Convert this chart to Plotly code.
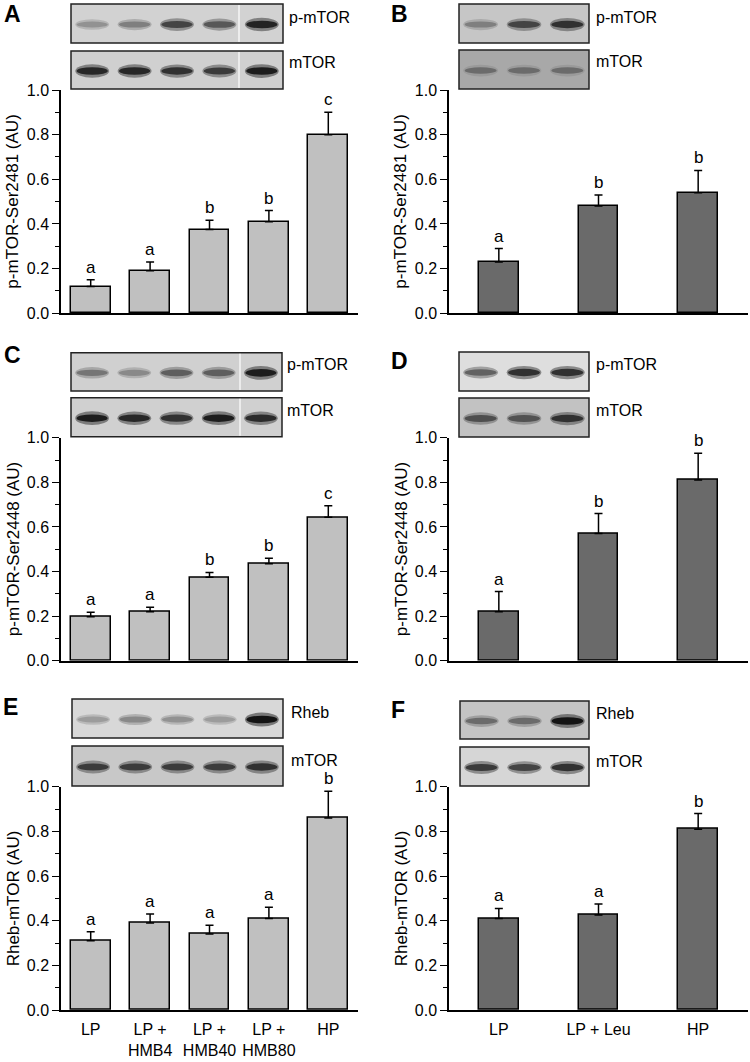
import plotly.graph_objects as go

W, H = 750, 1062
FONT = "Liberation Sans, Arial, sans-serif"

# ---------------- data ----------------
groups_hmb = ["LP", "LP +<br>HMB4", "LP +<br>HMB40", "LP +<br>HMB80", "HP"]
groups_leu = ["LP", "LP + Leu", "HP"]

A_mean = [0.12, 0.19, 0.375, 0.41, 0.80]
A_err = [0.03, 0.04, 0.042, 0.05, 0.10]
A_sig = ["a", "a", "b", "b", "c"]

B_mean = [0.23, 0.48, 0.54]
B_err = [0.06, 0.05, 0.10]
B_sig = ["a", "b", "b"]

C_mean = [0.197, 0.22, 0.374, 0.435, 0.643]
C_err = [0.02, 0.02, 0.022, 0.024, 0.052]
C_sig = ["a", "a", "b", "b", "c"]

D_mean = [0.22, 0.57, 0.81]
D_err = [0.09, 0.09, 0.12]
D_sig = ["a", "b", "b"]

E_mean = [0.31, 0.39, 0.34, 0.41, 0.86]
E_err = [0.04, 0.04, 0.04, 0.05, 0.12]
E_sig = ["a", "a", "a", "a", "b"]

F_mean = [0.41, 0.425, 0.81]
F_err = [0.045, 0.05, 0.07]
F_sig = ["a", "a", "b"]

y_titles = ["p-mTOR-Ser2481 (AU)", "p-mTOR-Ser2481 (AU)",
            "p-mTOR-Ser2448 (AU)", "p-mTOR-Ser2448 (AU)",
            "Rheb-mTOR (AU)", "Rheb-mTOR (AU)"]
panel_letters = ["A", "B", "C", "D", "E", "F"]

# blot band darkness per lane (0 = none, 1 = black)
blot_A_top = [0.35, 0.45, 0.75, 0.65, 0.92]
blot_A_bot = [0.9, 0.9, 0.85, 0.8, 0.95]
blot_B_top = [0.45, 0.75, 0.85]
blot_B_bot = [0.55, 0.55, 0.55]
blot_C_top = [0.5, 0.4, 0.62, 0.62, 0.95]
blot_C_bot = [0.95, 0.9, 0.85, 0.95, 0.88]
blot_D_top = [0.6, 0.85, 0.85]
blot_D_bot = [0.7, 0.68, 0.85]
blot_E_top = [0.3, 0.4, 0.35, 0.3, 1.0]
blot_E_bot = [0.8, 0.8, 0.8, 0.8, 0.85]
blot_F_top = [0.55, 0.55, 1.0]
blot_F_bot = [0.8, 0.75, 0.85]

blot_labels_top = ["p-mTOR", "p-mTOR", "p-mTOR", "p-mTOR", "Rheb", "Rheb"]
blot_labels_bot = ["mTOR"] * 6

# ---------------- layout geometry (pixels) ----------------
def PX(x):
    return x / W


def PY(y):
    return 1 - y / H


x_dom = {"L": (61, 358), "R": (449, 748)}
y_dom = [(90, 313.3), (437.7, 660.7), (786.7, 1010)]

LIGHT = "#c0c0c0"
DARK = "#6a6a6a"

panels = [
    dict(mean=A_mean, err=A_err, sig=A_sig, cats=groups_hmb, side="L", row=0, color=LIGHT,
         top=blot_A_top, bot=blot_A_bot, box=(71, 283), by=((4, 43), (51, 89)),
         bg=("#d2d2d2", "#d0d0d0"), sep=239, letter=(12, 14), lab_x=287, lab_y=(18, 63)),
    dict(mean=B_mean, err=B_err, sig=B_sig, cats=groups_leu, side="R", row=0, color=DARK,
         top=blot_B_top, bot=blot_B_bot, box=(459, 589), by=((4, 43), (50, 89)),
         bg=("#c6c6c6", "#a8a8a8"), sep=None, letter=(399, 14), lab_x=594, lab_y=(18, 62)),
    dict(mean=C_mean, err=C_err, sig=C_sig, cats=groups_hmb, side="L", row=1, color=LIGHT,
         top=blot_C_top, bot=blot_C_bot, box=(71, 282), by=((352.7, 391), (397.7, 436.7)),
         bg=("#d0d0d0", "#d0d0d0"), sep=240, letter=(12, 355), lab_x=285, lab_y=(364, 411)),
    dict(mean=D_mean, err=D_err, sig=D_sig, cats=groups_leu, side="R", row=1, color=DARK,
         top=blot_D_top, bot=blot_D_bot, box=(459, 589), by=((352, 391), (398, 437)),
         bg=("#dedede", "#c2c2c2"), sep=None, letter=(399, 361), lab_x=594, lab_y=(365, 410)),
    dict(mean=E_mean, err=E_err, sig=E_sig, cats=groups_hmb, side="L", row=2, color=LIGHT,
         top=blot_E_top, bot=blot_E_bot, box=(72, 283), by=((699, 738), (746, 786)),
         bg=("#d8d8d8", "#c8c8c8"), sep=None, letter=(10, 707), lab_x=289, lab_y=(712, 760)),
    dict(mean=F_mean, err=F_err, sig=F_sig, cats=groups_leu, side="R", row=2, color=DARK,
         top=blot_F_top, bot=blot_F_bot, box=(460, 589), by=((701, 739), (747, 786)),
         bg=("#c4c4c4", "#d6d6d6"), sep=None, letter=(398, 710), lab_x=594, lab_y=(713, 761)),
]

fig = go.Figure()
shapes = []
annotations = []


def gray(d):
    g = int(max(0, min(255, 215 - 195 * d)))
    return f"rgb({g},{g},{g})"


for i, p in enumerate(panels):
    k = i + 1
    xa = "x" if k == 1 else f"x{k}"
    ya = "y" if k == 1 else f"y{k}"
    n = len(p["mean"])
    bw = 0.67 if n == 5 else 0.40
    fig.add_trace(go.Bar(
        x=p["cats"], y=p["mean"], xaxis=xa, yaxis=ya, width=bw,
        marker=dict(color=p["color"], line=dict(color="black", width=1.5)),
        error_y=dict(type="data", array=p["err"], arrayminus=[0] * n, symmetric=False,
                     color="black", thickness=1.5, width=4),
        showlegend=False, hoverinfo="skip",
    ))
    x0, x1 = x_dom[p["side"]]
    yt, yb = y_dom[p["row"]]
    bottom = p["row"] == 2
    fig.update_layout(**{
        ("xaxis" if k == 1 else f"xaxis{k}"): dict(
            domain=[PX(x0), PX(x1)], anchor=ya, type="category", automargin=False,
            categoryorder="array", categoryarray=p["cats"],
            range=[-0.5, n - 0.5], showline=True, linecolor="black", linewidth=1.5,
            ticks="", showticklabels=bottom, showgrid=False, zeroline=False,
            tickangle=0, ticklabelstandoff=4,
            tickfont=dict(family=FONT, size=16, color="black"),
        ),
        ("yaxis" if k == 1 else f"yaxis{k}"): dict(
            domain=[PY(yb), PY(yt)], anchor=xa, range=[0, 1.0], automargin=False,
            tickvals=[0, 0.2, 0.4, 0.6, 0.8, 1.0], tickformat=".1f",
            showline=True, linecolor="black", linewidth=1.5,
            ticks="outside", ticklen=7, tickwidth=1.2, tickcolor="black",
            minor=dict(tickvals=[0.1, 0.3, 0.5, 0.7, 0.9], ticks="outside", ticklen=4,
                       tickwidth=1.2, tickcolor="black"),
            showgrid=False, zeroline=False,
            tickfont=dict(family=FONT, size=16, color="black"),
        ),
    })
    # significance letters
    for c, m, e, s in zip(p["cats"], p["mean"], p["err"], p["sig"]):
        annotations.append(dict(x=c, y=m + e, xref=xa, yref=ya, text=s, showarrow=False,
                                yanchor="bottom", yshift=1,
                                font=dict(family=FONT, size=17, color="black")))
    # y title
    annotations.append(dict(x=PX(x0 - 48), y=PY((yt + yb) / 2), xref="paper", yref="paper",
                            text=y_titles[i], textangle=-90, showarrow=False,
                            xanchor="center", yanchor="middle",
                            font=dict(family=FONT, size=17, color="black")))
    # panel letter
    lx, ly = p["letter"]
    annotations.append(dict(x=PX(lx), y=PY(ly), xref="paper", yref="paper",
                            text=f"<b>{panel_letters[i]}</b>", showarrow=False,
                            xanchor="center", yanchor="middle",
                            font=dict(family=FONT, size=23, color="black")))
    # blots
    bx0, bx1 = p["box"]
    lane_w = (bx1 - bx0) / n
    for j, ((by0, by1), bands, bg) in enumerate(zip(p["by"], (p["top"], p["bot"]), p["bg"])):
        shapes.append(dict(type="rect", xref="paper", yref="paper",
                           x0=PX(bx0), x1=PX(bx1), y0=PY(by1), y1=PY(by0),
                           fillcolor=bg, line=dict(color="#222222", width=1.5), layer="above"))
        cy = (by0 + by1) / 2 + 1
        for li, d in enumerate(bands):
            cx = bx0 + lane_w * (li + 0.5)
            hw = lane_w * 0.40
            hh = 4.5 + 2.5 * d
            shapes.append(dict(type="circle", xref="paper", yref="paper",
                               x0=PX(cx - hw), x1=PX(cx + hw), y0=PY(cy + hh), y1=PY(cy - hh),
                               fillcolor=gray(d * 0.6), line=dict(width=0), opacity=0.8,
                               layer="above"))
            shapes.append(dict(type="circle", xref="paper", yref="paper",
                               x0=PX(cx - hw * 0.92), x1=PX(cx + hw * 0.92),
                               y0=PY(cy + hh * 0.55), y1=PY(cy - hh * 0.55),
                               fillcolor=gray(d), line=dict(width=0), layer="above"))
        if p["sep"] is not None:
            shapes.append(dict(type="line", xref="paper", yref="paper",
                               x0=PX(p["sep"]), x1=PX(p["sep"]), y0=PY(by1 - 1), y1=PY(by0 + 1),
                               line=dict(color="white", width=1.2), layer="above"))
    for txt, yy in zip((blot_labels_top[i], blot_labels_bot[i]), p["lab_y"]):
        annotations.append(dict(x=PX(p["lab_x"]), y=PY(yy), xref="paper", yref="paper",
                                text=txt, showarrow=False, xanchor="left", yanchor="middle",
                                font=dict(family=FONT, size=16, color="black")))

fig.update_layout(
    template="none",
    width=W, height=H, margin=dict(l=0, r=0, t=0, b=0, autoexpand=False),
    paper_bgcolor="white", plot_bgcolor="white",
    shapes=shapes, annotations=annotations, bargap=0, showlegend=False,
    font=dict(family=FONT, color="black"),
)

fig.write_html(
    "out.html",
    config={"displayModeBar": False},
    post_script="document.body.style.margin='0px';document.body.style.overflow='hidden';",
)
